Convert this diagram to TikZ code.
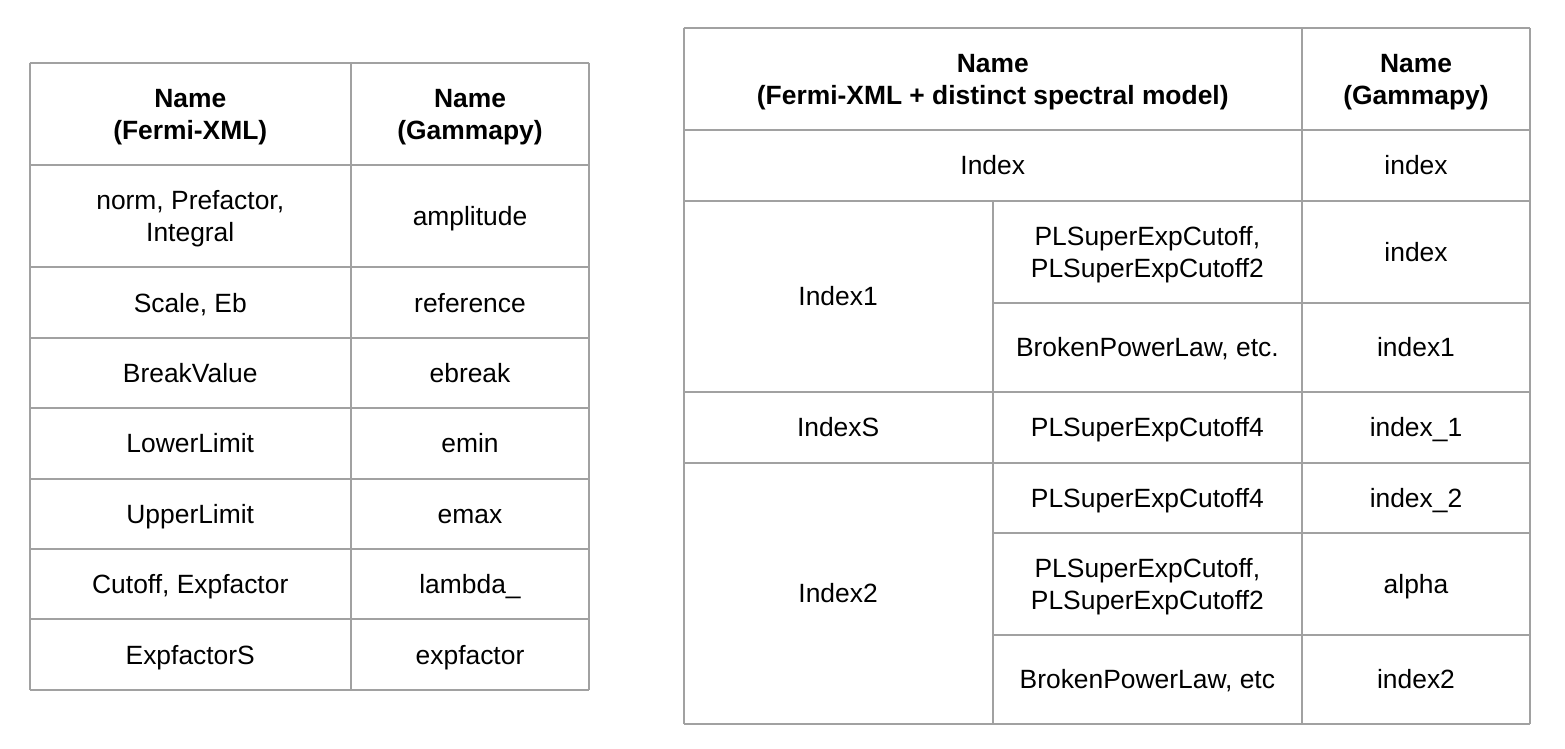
\documentclass[tikz,border=0pt]{standalone}
\usepackage{fontspec}
\setmainfont{Liberation Sans}
\newcommand\cellstrut{\rule[-6pt]{0pt}{30.6pt}}
\newcommand\cl[1]{\cellstrut#1\cellstrut}
\tikzset{
  grid/.style={draw=black!37, line width=2pt},
  cell/.style={inner sep=0pt, align=center, anchor=center, text=black,
    font=\fontsize{26.4}{32}\selectfont},
  headcell/.style={cell, font=\fontsize{26.4}{32}\selectfont\bfseries},
}
\begin{document}
\begin{tikzpicture}[x=1pt,y=-1pt]
\useasboundingbox (0,0) rectangle (1565,748);
\fill[white] (0,0) rectangle (1565,748);
% ---------- left table ----------
\def\La{29.5}\def\Lb{351}\def\Lc{589}
\foreach \y in {62.5,165,267.3,338,408.3,478.7,549,619.3,690}
  \draw[grid] (\La,\y) -- (\Lc,\y);
\foreach \x in {\La,\Lb,\Lc}
  \draw[grid] (\x,62.5) -- (\x,690);
\node[headcell] (lh1) at (190.25,113.75) {\cl{Name\\(Fermi-XML)}};
\node[headcell] (lh2) at (470,113.75) {\cl{Name\\(Gammapy)}};
\node[cell] (l1a) at (190.25,216.2) {\cl{norm, Prefactor,\\Integral}};
\node[cell] (l1b) at (470,216.2) {\cl{amplitude}};
\node[cell] (l2a) at (190.25,302.7) {\cl{Scale, Eb}};
\node[cell] (l2b) at (470,302.7) {\cl{reference}};
\node[cell] (l3a) at (190.25,373.2) {\cl{BreakValue}};
\node[cell] (l3b) at (470,373.2) {\cl{ebreak}};
\node[cell] (l4a) at (190.25,443.5) {\cl{LowerLimit}};
\node[cell] (l4b) at (470,443.5) {\cl{emin}};
\node[cell] (l5a) at (190.25,513.9) {\cl{UpperLimit}};
\node[cell] (l5b) at (470,513.9) {\cl{emax}};
\node[cell] (l6a) at (190.25,584.2) {\cl{Cutoff, Expfactor}};
\node[cell] (l6b) at (470,584.2) {\cl{lambda\_}};
\node[cell] (l7a) at (190.25,654.7) {\cl{ExpfactorS}};
\node[cell] (l7b) at (470,654.7) {\cl{expfactor}};
% ---------- right table ----------
\def\Ra{683.5}\def\Rb{992.7}\def\Rc{1302}\def\Rd{1530}
\foreach \y in {28,130,200.7,391.7,462.7,724}
  \draw[grid] (\Ra,\y) -- (\Rd,\y);
\foreach \y in {302.7,533.3,635}
  \draw[grid] (\Rb,\y) -- (\Rd,\y);
\foreach \x in {\Ra,\Rc,\Rd}
  \draw[grid] (\x,28) -- (\x,724);
\draw[grid] (\Rb,200.7) -- (\Rb,724);
\node[headcell] (rh1) at (992.75,79) {\cl{Name\\(Fermi-XML + distinct spectral model)}};
\node[headcell] (rh2) at (1416,79) {\cl{Name\\(Gammapy)}};
\node[cell] (r1a) at (992.75,165.3) {\cl{Index}};
\node[cell] (r1c) at (1416,165.3) {\cl{index}};
\node[cell] (r2a) at (838.1,296.2) {\cl{Index1}};
\node[cell] (r2b) at (1147.35,251.7) {\cl{PLSuperExpCutoff,\\PLSuperExpCutoff2}};
\node[cell] (r2c) at (1416,251.7) {\cl{index}};
\node[cell] (r3b) at (1147.35,347.2) {\cl{BrokenPowerLaw, etc.}};
\node[cell] (r3c) at (1416,347.2) {\cl{index1}};
\node[cell] (r4a) at (838.1,427.2) {\cl{IndexS}};
\node[cell] (r4b) at (1147.35,427.2) {\cl{PLSuperExpCutoff4}};
\node[cell] (r4c) at (1416,427.2) {\cl{index\_1}};
\node[cell] (r5a) at (838.1,593.3) {\cl{Index2}};
\node[cell] (r5b) at (1147.35,498) {\cl{PLSuperExpCutoff4}};
\node[cell] (r5c) at (1416,498) {\cl{index\_2}};
\node[cell] (r6b) at (1147.35,584.2) {\cl{PLSuperExpCutoff,\\PLSuperExpCutoff2}};
\node[cell] (r6c) at (1416,584.2) {\cl{alpha}};
\node[cell] (r7b) at (1147.35,679.5) {\cl{BrokenPowerLaw, etc}};
\node[cell] (r7c) at (1416,679.5) {\cl{index2}};
\end{tikzpicture}
\end{document}
